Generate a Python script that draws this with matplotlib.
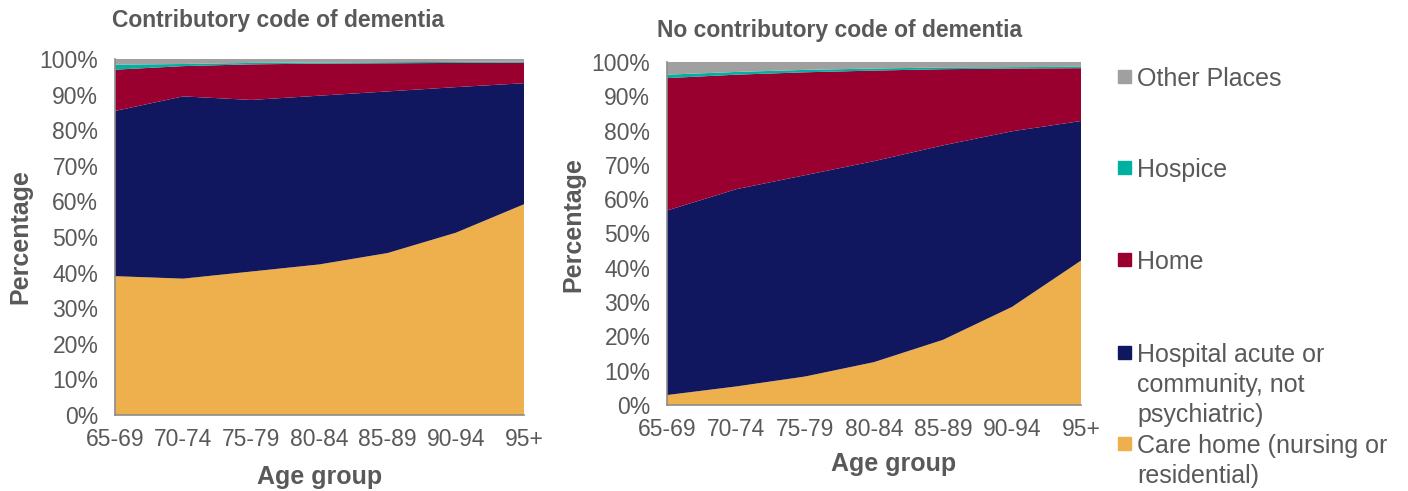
import matplotlib.pyplot as plt
from matplotlib.patches import Rectangle
from matplotlib.ticker import PercentFormatter

plt.rcParams['font.family'] = ['Liberation Sans', 'DejaVu Sans']

# Age groups
age_groups = ['65-69', '70-74', '75-79', '80-84', '85-89', '90-94', '95+']

# Contributory code of dementia (%)
dem_care_home = [39.0, 38.3, 40.3, 42.3, 45.5, 51.2, 59.2]
dem_hospital = [46.4, 51.2, 48.2, 47.4, 45.4, 40.9, 34.0]
dem_home = [11.6, 8.5, 10.0, 9.0, 7.9, 6.8, 5.8]
dem_hospice = [1.4, 0.6, 0.4, 0.3, 0.3, 0.3, 0.3]
dem_other = [1.6, 1.4, 1.1, 1.0, 0.9, 0.8, 0.7]

# No contributory code of dementia (%)
nodem_care_home = [2.9, 5.4, 8.3, 12.5, 19.0, 28.6, 42.1]
nodem_hospital = [53.8, 57.5, 58.7, 58.6, 56.7, 51.2, 40.7]
nodem_home = [38.6, 33.4, 30.0, 26.4, 22.2, 18.3, 15.4]
nodem_hospice = [1.0, 0.8, 0.7, 0.6, 0.5, 0.4, 0.4]
nodem_other = [3.7, 2.9, 2.3, 1.9, 1.6, 1.5, 1.4]

labels = ['Care home (nursing or\nresidential)',
          'Hospital acute or\ncommunity, not\npsychiatric)',
          'Home', 'Hospice', 'Other Places']
colors = ['#EEB04D', '#11175E', '#990030', '#00B0A0', '#A0A0A0']

grey = '#595959'
W, H = 1408, 491

fig = plt.figure(figsize=(W / 100, H / 100), dpi=100)
ax1 = fig.add_axes([115 / W, 1 - 415 / H, 409 / W, 356 / H])
ax2 = fig.add_axes([667 / W, 1 - 405 / H, 414 / W, 343 / H])

# (axis, title, series, title x px, title y px, ylabel pos, xlabel pos)
panels = [
    (ax1, 'Contributory code of dementia',
     [dem_care_home, dem_hospital, dem_home, dem_hospice, dem_other],
     112, 20, (-0.232, 0.5), (0.5, -0.174)),
    (ax2, 'No contributory code of dementia',
     [nodem_care_home, nodem_hospital, nodem_home, nodem_hospice, nodem_other],
     657, 30, (-0.227, 0.525), (0.548, -0.172)),
]

for ax, title, series, tx, ty, ylpos, xlpos in panels:
    x = range(len(age_groups))
    ax.stackplot(x, *series, colors=colors, linewidth=0)
    ax.set_xlim(0, len(age_groups) - 1)
    ax.set_ylim(0, 100)
    ax.set_xticks(list(x))
    ax.set_xticklabels(age_groups)
    ax.set_yticks(range(0, 101, 10))
    ax.yaxis.set_major_formatter(PercentFormatter(decimals=0))
    ax.tick_params(length=0, labelsize=16.5, labelcolor=grey)
    ax.tick_params(axis='y', pad=12)
    ax.tick_params(axis='x', pad=9)
    for s in ['top', 'right']:
        ax.spines[s].set_visible(False)
    for s in ['left', 'bottom']:
        ax.spines[s].set_color('#8C8C8C')
        ax.spines[s].set_linewidth(1.2)
    ax.set_xlabel('Age group', fontsize=18, fontweight='bold', color=grey)
    ax.set_ylabel('Percentage', fontsize=18, fontweight='bold', color=grey)
    ax.xaxis.label.set_va('center')
    ax.yaxis.label.set_va('center')
    ax.xaxis.set_label_coords(*xlpos)
    ax.yaxis.set_label_coords(*ylpos)
    fig.text(tx / W, 1 - ty / H, title, fontsize=16.5, fontweight='bold',
             color=grey, ha='left', va='center')

# Legend, top entry first (baseline of first line in px), one text per line
legend_base = [86, 177, 269, 362, 453]
line_step = 30
for lab, col, yb in zip(labels[::-1], colors[::-1], legend_base):
    fig.patches.append(Rectangle((1118 / W, 1 - (yb - 3) / H), 13 / W, 13 / H,
                                 transform=fig.transFigure, color=col))
    for k, line in enumerate(lab.split('\n')):
        fig.text(1137 / W, 1 - (yb + k * line_step) / H, line, fontsize=18,
                 color=grey, ha='left', va='baseline')

fig.savefig('out.png', dpi=100)
